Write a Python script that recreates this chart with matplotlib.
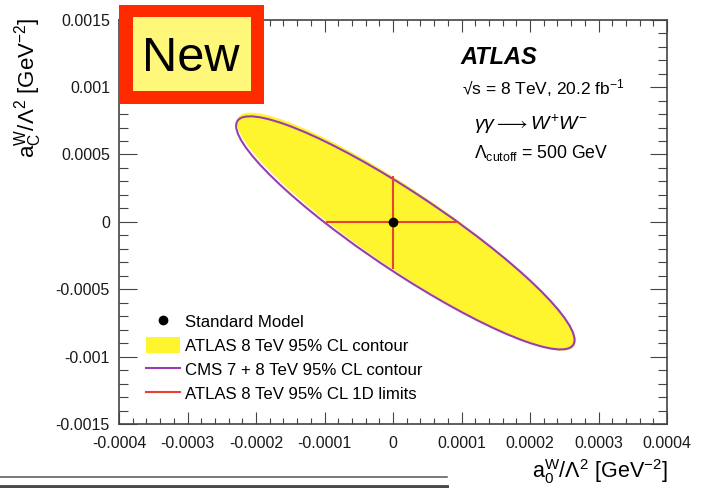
import numpy as np
import matplotlib
matplotlib.use("Agg")
import matplotlib.pyplot as plt
from matplotlib.patches import Circle, Patch, Rectangle
from matplotlib.lines import Line2D
from matplotlib.transforms import Affine2D
from matplotlib.ticker import AutoMinorLocator, FixedLocator, FixedFormatter

plt.rcParams['font.family'] = ['Liberation Sans', 'DejaVu Sans']
plt.rcParams['mathtext.fontset'] = 'custom'
plt.rcParams['mathtext.rm'] = 'Liberation Sans'
plt.rcParams['mathtext.it'] = 'Liberation Sans:italic'
plt.rcParams['mathtext.bf'] = 'Liberation Sans:bold'
plt.rcParams['mathtext.sf'] = 'Liberation Sans'

# ---------------- data ----------------
x_ticks = [-0.0004, -0.0003, -0.0002, -0.0001, 0.0, 0.0001, 0.0002, 0.0003, 0.0004]
x_ticklabels = ["-0.0004", "-0.0003", "-0.0002", "-0.0001", "0", "0.0001", "0.0002", "0.0003", "0.0004"]
y_ticks = [-0.0015, -0.001, -0.0005, 0.0, 0.0005, 0.001, 0.0015]
y_ticklabels = ["-0.0015", "-0.001", "-0.0005", "0", "0.0005", "0.001", "0.0015"]

# 95% CL ellipses: centre (a0, aC), half extent in a0, half extent in aC, correlation
atlas_center = (1.95e-5, -7.25e-5)
atlas_halfwidths = (2.475e-4, 8.83e-4)
atlas_rho = -0.92
cms_center = (1.8e-5, -8.2e-5)
cms_halfwidths = (2.47e-4, 8.65e-4)
cms_rho = -0.918

# ATLAS 1D limits
a0_limits = [-9.6e-5, 9.5e-5]
aC_limits = [-3.43e-4, 3.3e-4]
sm_point = (0.0, 0.0)

labels = ["Standard Model", "ATLAS 8 TeV 95% CL contour",
          "CMS 7 + 8 TeV 95% CL contour", "ATLAS 8 TeV 95% CL 1D limits"]

YELLOW = '#FFF52E'
PURPLE = '#9A3DAE'
RED = '#E8432F'
W, H = 705, 488

fig = plt.figure(figsize=(W / 100, H / 100), dpi=100)
ax = fig.add_axes([119 / W, 1 - 424 / H, (667 - 119) / W, (424 - 19.7) / H])
ax.set_xlim(-0.0004, 0.0004)
ax.set_ylim(-0.0015, 0.0015)


def ellipse_transform(center, halfw, rho):
    hx, hy = halfw
    m = np.array([[hx, 0.0, center[0]],
                  [rho * hy, hy * np.sqrt(1 - rho ** 2), center[1]],
                  [0.0, 0.0, 1.0]])
    return Affine2D(m) + ax.transData


ax.add_patch(Circle((0, 0), 1, transform=ellipse_transform(atlas_center, atlas_halfwidths, atlas_rho),
                    facecolor=YELLOW, edgecolor='none', zorder=1))
ax.add_patch(Circle((0, 0), 1, transform=ellipse_transform(cms_center, cms_halfwidths, cms_rho),
                    facecolor='none', edgecolor=PURPLE, lw=1.5, zorder=2))
ax.plot(a0_limits, [0, 0], color=RED, lw=1.5, zorder=3)
ax.plot([0, 0], aC_limits, color=RED, lw=1.5, zorder=3)
ax.plot([sm_point[0]], [sm_point[1]], 'o', color='black', markersize=6, zorder=4)

# ticks
ax.xaxis.set_major_locator(FixedLocator(x_ticks))
ax.xaxis.set_major_formatter(FixedFormatter(x_ticklabels))
ax.yaxis.set_major_locator(FixedLocator(y_ticks))
ax.yaxis.set_major_formatter(FixedFormatter(y_ticklabels))
ax.xaxis.set_minor_locator(AutoMinorLocator(5))
ax.yaxis.set_minor_locator(AutoMinorLocator(5))
ax.tick_params(axis='both', which='both', direction='in', top=True, right=True,
               color='#444444', width=0.8, labelsize=11.5, labelcolor='#1a1a1a')
ax.tick_params(axis='x', which='major', length=8.6, pad=8.5)
ax.tick_params(axis='x', which='minor', length=4.3)
ax.tick_params(axis='y', which='major', length=12.6, pad=6.5)
ax.tick_params(axis='y', which='minor', length=6.5)
for s in ax.spines.values():
    s.set_color('#444444')
    s.set_linewidth(1.2)

# axis labels
fig.text(668 / W, 1 - 478 / H, r'$\mathrm{a}_{0}^{\mathrm{W}}/\Lambda^{2}$ [GeV$^{-2}$]',
         ha='right', va='baseline', fontsize=15.5, color='black')
fig.text(28 / W, 1 - 18 / H, r'$\mathrm{a}_{\mathrm{C}}^{\mathrm{W}}/\Lambda^{2}$ [GeV$^{-2}$]',
         ha='center', va='top', rotation=90, fontsize=16, color='black')

# ATLAS labels
fig.text(460 / W, 1 - 64 / H, 'ATLAS', fontsize=17, fontweight='bold', fontstyle='italic',
         ha='left', va='baseline')
fig.text(462 / W, 1 - 94 / H, '√s = 8 TeV, 20.2 fb$^{-1}$', fontsize=12.5,
         ha='left', va='baseline')
fig.text(474 / W, 1 - 130 / H, r'$\gamma\gamma \longrightarrow W^{+}W^{-}$', fontsize=14,
         ha='left', va='baseline')
fig.text(474 / W, 1 - 158 / H, r'$\Lambda_{\mathrm{cutoff}}$ = 500 GeV', fontsize=12.7,
         ha='left', va='baseline')

# legend
handles = [Line2D([], [], marker='o', color='black', linestyle='none', markersize=6),
           Patch(facecolor=YELLOW, edgecolor='none'),
           Line2D([], [], color=PURPLE, lw=1.5),
           Line2D([], [], color=RED, lw=1.5)]
leg = ax.legend(handles, labels, loc='lower left', bbox_to_anchor=(146 / W, 1 - 402 / H),
                bbox_transform=fig.transFigure, frameon=False, fontsize=12.1,
                handlelength=2.0, handleheight=1.15, handletextpad=0.3,
                labelspacing=0.42, borderpad=0, borderaxespad=0)

# "New" badge
fig.add_artist(Rectangle((119 / W, 1 - 104 / H), 145 / W, 99 / H, transform=fig.transFigure,
                         facecolor='#FF2A00', edgecolor='none', zorder=10))
fig.add_artist(Rectangle((133 / W, 1 - 91 / H), 118 / W, 74 / H, transform=fig.transFigure,
                         facecolor='#FFF77A', edgecolor='none', zorder=11))
fig.text(191 / W, 1 - 71 / H, 'New', fontsize=35, ha='center', va='baseline', zorder=12)

# separator lines at bottom
fig.add_artist(Line2D([0, 447 / W], [1 - 477 / H, 1 - 477 / H], transform=fig.transFigure,
                      color='#555555', lw=1.1))
fig.add_artist(Line2D([0, 447 / W], [1 - 486.5 / H, 1 - 486.5 / H], transform=fig.transFigure,
                      color='#4a4a4a', lw=2.8))

fig.savefig('out.png', dpi=100)
